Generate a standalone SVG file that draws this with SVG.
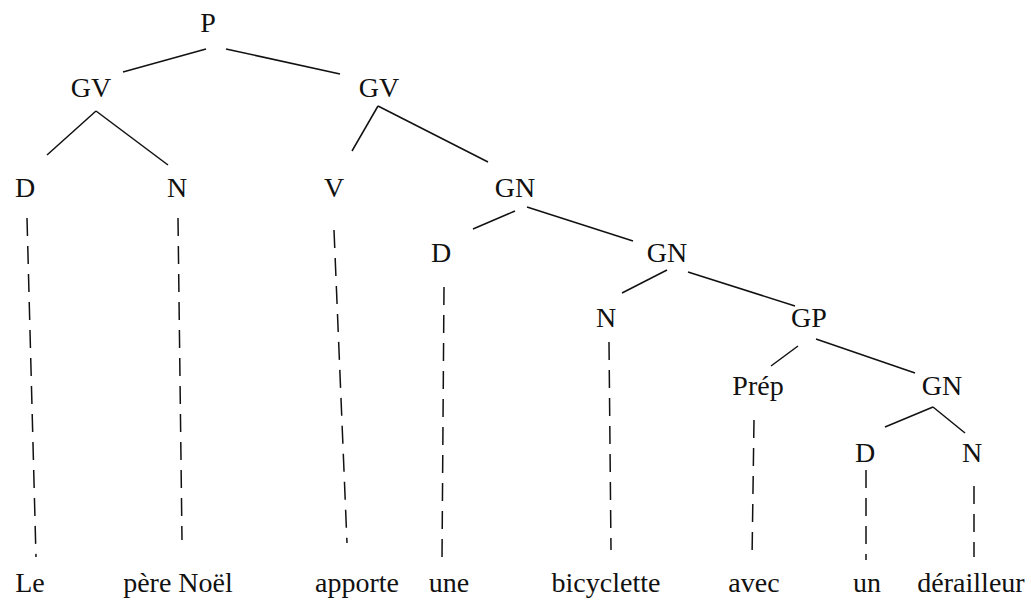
<svg xmlns="http://www.w3.org/2000/svg" width="1031" height="603" viewBox="0 0 1031 603">
<style>
text{font-family:"Liberation Serif","Times New Roman",serif;font-size:28px;fill:#111;text-anchor:middle}
.e{stroke:#111;stroke-width:1.5;fill:none}
.d{stroke:#111;stroke-width:1.5;fill:none;stroke-dasharray:18 10}
</style>
<rect width="1031" height="603" fill="#fff"/>
<g id="connectors">
<line class="e" x1="123" y1="72" x2="206" y2="49"/>
<line class="e" x1="226" y1="49" x2="340" y2="74"/>
<line class="e" x1="96" y1="111" x2="47" y2="155"/>
<line class="e" x1="96" y1="111" x2="168" y2="165"/>
<line class="e" x1="378" y1="106" x2="352" y2="151"/>
<line class="e" x1="378" y1="106" x2="488" y2="162"/>
<line class="e" x1="515" y1="211" x2="473" y2="229"/>
<line class="e" x1="527" y1="207" x2="633" y2="241"/>
<line class="e" x1="667" y1="270" x2="622" y2="293"/>
<line class="e" x1="688" y1="272" x2="795" y2="306"/>
<line class="e" x1="798" y1="346" x2="771" y2="366"/>
<line class="e" x1="816" y1="339" x2="915" y2="373"/>
<line class="e" x1="933" y1="407" x2="885" y2="427"/>
<line class="e" x1="933" y1="407" x2="965" y2="433"/>
<line class="d" x1="27" y1="218" x2="36" y2="557"/>
<line class="d" x1="178" y1="218" x2="182" y2="540"/>
<line class="d" x1="334" y1="230" x2="347" y2="543"/>
<line class="d" x1="444" y1="287" x2="442" y2="560"/>
<line class="d" x1="609" y1="342" x2="611" y2="550"/>
<line class="d" x1="754" y1="420" x2="752" y2="560"/>
<line class="d" x1="866" y1="470" x2="866" y2="560"/>
<line class="d" x1="974" y1="486" x2="974" y2="557"/>
</g>
<g id="n-P"><text x="208" y="32">P</text></g>
<g id="n-GV1"><text x="91" y="97">GV</text></g>
<g id="n-GV2"><text x="379" y="97">GV</text></g>
<g id="n-D1"><text x="25" y="197">D</text></g>
<g id="n-N1"><text x="177" y="197">N</text></g>
<g id="n-V"><text x="334" y="197">V</text></g>
<g id="n-GN1"><text x="515" y="197">GN</text></g>
<g id="n-D2"><text x="441" y="262">D</text></g>
<g id="n-GN2"><text x="667" y="262">GN</text></g>
<g id="n-N3"><text x="606" y="327">N</text></g>
<g id="n-GP"><text x="809" y="327">GP</text></g>
<g id="n-Prep"><text x="758" y="395">Prép</text></g>
<g id="n-GN3"><text x="942" y="395">GN</text></g>
<g id="n-D4"><text x="865" y="462">D</text></g>
<g id="n-N4"><text x="972" y="462">N</text></g>
<g id="w-Le"><text x="30" y="592">Le</text></g>
<g id="w-pere"><text x="178" y="592">père Noël</text></g>
<g id="w-apporte"><text x="357" y="592">apporte</text></g>
<g id="w-une"><text x="449" y="592">une</text></g>
<g id="w-bicyclette"><text x="606" y="592">bicyclette</text></g>
<g id="w-avec"><text x="754" y="592">avec</text></g>
<g id="w-un"><text x="867" y="592">un</text></g>
<g id="w-derailleur"><text x="971" y="592">dérailleur</text></g>
</svg>
